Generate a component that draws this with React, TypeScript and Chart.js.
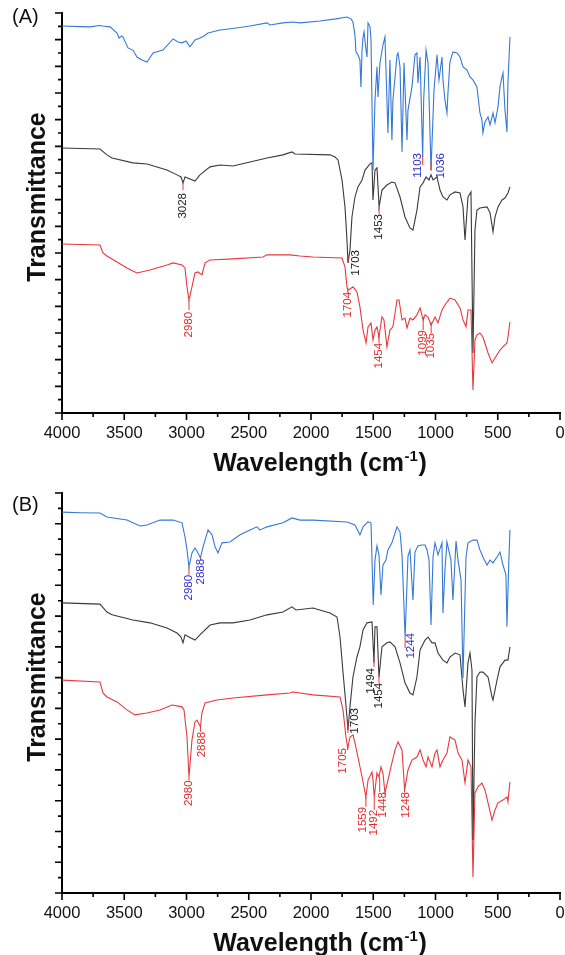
import React, { useEffect, useRef } from 'react';
import { Chart, registerables } from 'chart.js';
Chart.register(...registerables);

const FONT = '"Liberation Sans", Arial, Helvetica, sans-serif';

// ---------- axis definitions ----------
const xTickLabels = [4000, 3500, 3000, 2500, 2000, 1500, 1000, 500, 0];
const xMinorStep = 250;
const yMinorStep = 5;
const yMajorStep = 10;
const yMaxA = 150;
const yMaxB = 130;

// ---------- Panel A spectra: [wavenumber, transmittance (offset units)] ----------
const aBlue: [number, number][] = [
  [4000,145.1],[3850,144.9],[3775,144.8],[3700,145.3],[3671,145.1],[3614,144.8],[3558,142.5],[3542,140.6],[3520,141.4],[3510,141.0],
  [3470,136.9],[3430,136.1],[3398,133.5],[3357,132.4],[3317,131.6],[3269,135.0],[3189,136.1],[3108,140.3],[3068,139.1],[3036,138.8],
  [3004,139.5],[2972,137.3],[2932,139.9],[2892,140.6],[2859,141.4],[2827,142.5],[2731,143.6],[2600,144.4],[2490,145.1],[2353,146.3],
  [2329,145.5],[2225,146.3],[2145,146.6],[2088,146.3],[1928,147.0],[1800,147.8],[1711,148.5],[1679,147.8],[1663,146.6],[1647,141.8],
  [1639,135.4],[1623,134.3],[1607,132.4],[1599,122.3],[1590,136.1],[1582,141.0],[1574,142.9],[1558,136.1],[1550,133.5],[1542,146.3],
  [1526,144.8],[1518,140.0],[1502,91.1],[1486,117.4],[1470,129.8],[1462,118.5],[1446,131.3],[1422,138.0],[1406,141.0],[1390,117.4],
  [1382,105.0],[1366,132.4],[1350,102.4],[1342,117.4],[1325,126.0],[1309,134.3],[1301,135.0],[1285,129.8],[1269,97.9],[1253,131.3],
  [1229,102.4],[1221,113.6],[1189,122.3],[1165,134.3],[1149,135.0],[1141,123.8],[1124,133.5],[1103,96.0],[1095,117.4],[1076,136.1],
  [1060,131.3],[1052,118.5],[1036,91.1],[1012,121.1],[988,134.3],[972,124.9],[948,133.5],[940,124.9],[924,117.4],[908,112.5],
  [900,120.0],[884,131.6],[860,135.4],[827,135.0],[803,133.5],[779,129.8],[747,128.6],[723,126.0],[699,124.9],[667,122.3],
  [643,112.5],[627,109.9],[619,105.0],[603,109.1],[578,111.0],[562,108.0],[538,112.5],[522,108.8],[498,114.8],[482,122.3],
  [466,126.0],[458,127.5],[442,113.6],[426,105.4],[418,123.8],[402,141.0],
];
const aBlack: [number, number][] = [
  [4000,99.4],[3695,99.0],[3639,96.8],[3598,95.6],[3430,93.8],[3317,93.4],[3157,91.1],[3076,89.3],[3044,88.5],[3028,86.3],
  [3012,88.5],[2932,87.0],[2892,89.3],[2811,92.3],[2731,93.0],[2627,92.6],[2490,94.1],[2353,95.6],[2225,96.8],[2153,97.9],
  [2129,97.1],[1847,96.8],[1807,96.0],[1783,94.9],[1751,87.4],[1727,77.3],[1711,64.9],[1703,56.3],[1687,61.1],[1671,73.5],
  [1647,81.0],[1623,84.8],[1590,87.4],[1566,91.1],[1526,93.4],[1510,93.8],[1502,79.9],[1486,91.1],[1470,91.9],[1453,77.3],
  [1430,83.6],[1390,85.5],[1350,86.6],[1325,86.3],[1285,81.0],[1245,73.5],[1205,69.4],[1181,68.6],[1149,76.1],[1124,84.8],
  [1100,86.3],[1076,88.5],[1052,87.4],[1036,89.3],[1020,87.4],[988,88.5],[964,83.6],[940,81.0],[908,79.9],[884,81.8],
  [843,82.9],[803,82.5],[779,77.3],[763,64.9],[739,81.0],[715,82.9],[699,22.5],[683,68.6],[667,76.1],[643,76.9],
  [586,77.3],[562,75.0],[538,67.9],[522,73.5],[498,77.3],[466,79.9],[442,80.6],[418,82.5],[402,84.8],
];
const aRed: [number, number][] = [
  [4000,63.4],[3695,63.0],[3671,60.0],[3639,58.9],[3558,56.6],[3478,54.4],[3398,52.5],[3293,53.6],[3157,55.5],[3108,56.3],
  [3036,55.5],[3012,54.4],[2996,47.3],[2980,42.4],[2956,47.3],[2932,52.5],[2908,52.9],[2876,51.8],[2851,56.3],[2811,57.4],
  [2627,57.8],[2386,58.5],[2353,59.3],[2169,59.3],[2088,58.9],[1984,58.5],[1751,58.1],[1727,54.8],[1711,47.3],[1704,46.1],
  [1687,46.5],[1663,47.3],[1631,45.4],[1607,39.8],[1582,31.1],[1558,26.3],[1542,32.3],[1518,33.8],[1502,27.4],[1486,31.1],
  [1470,32.3],[1454,28.5],[1430,36.0],[1414,34.9],[1390,24.8],[1366,31.1],[1342,32.3],[1309,42.4],[1293,42.4],[1269,34.9],
  [1245,35.6],[1229,31.9],[1205,35.6],[1181,34.9],[1149,36.8],[1124,39.4],[1099,34.9],[1084,36.8],[1060,36.0],[1035,33.0],
  [1004,36.0],[980,33.8],[948,38.6],[924,40.5],[884,43.1],[843,42.4],[803,39.4],[779,34.9],[755,32.3],[739,38.6],
  [715,38.6],[699,8.6],[683,27.4],[667,29.3],[643,30.0],[619,28.5],[578,22.5],[546,18.8],[522,20.6],[482,23.6],
  [458,24.8],[426,26.3],[418,28.5],[402,34.1],
];

// ---------- Panel B spectra ----------
const bBlue: [number, number][] = [
  [4000,123.8],[3850,123.6],[3695,123.5],[3639,122.2],[3478,121.2],[3373,119.3],[3317,119.6],[3213,121.2],[3108,121.2],[3036,120.3],
  [3012,115.7],[2996,111.5],[2980,106.0],[2956,110.5],[2932,112.1],[2908,110.5],[2888,108.9],[2867,112.5],[2827,118.0],[2795,116.4],
  [2771,112.5],[2747,110.5],[2715,113.8],[2651,114.1],[2570,116.4],[2490,118.0],[2434,119.0],[2410,118.0],[2353,119.0],[2225,120.3],
  [2153,121.9],[2088,121.2],[1984,121.2],[1711,120.6],[1647,119.6],[1607,116.4],[1582,119.0],[1542,120.6],[1518,120.3],[1500,93.6],
  [1486,108.2],[1470,112.8],[1454,109.9],[1438,96.9],[1422,106.6],[1398,108.2],[1382,111.5],[1350,113.8],[1325,117.0],[1309,119.0],
  [1285,117.3],[1269,109.9],[1244,83.2],[1221,109.5],[1205,111.5],[1181,95.2],[1165,110.8],[1141,112.8],[1108,113.1],[1084,113.1],
  [1068,111.5],[1052,108.2],[1036,87.1],[1020,109.2],[1004,113.8],[980,109.9],[948,113.8],[940,91.0],[924,105.0],[908,114.1],
  [876,108.2],[860,95.2],[835,114.4],[819,108.2],[795,101.7],[779,69.9],[755,109.2],[739,113.8],[699,114.7],[667,114.7],
  [643,111.5],[619,109.2],[586,106.6],[562,108.2],[538,107.3],[506,109.2],[482,110.8],[458,106.6],[434,103.4],[426,86.5],
  [410,109.2],[402,118.0],
];
const bBlack: [number, number][] = [
  [4000,94.3],[3695,93.9],[3639,91.3],[3598,90.4],[3430,88.7],[3293,87.8],[3157,86.1],[3076,84.5],[3044,83.2],[3028,81.3],
  [3012,83.9],[2980,83.2],[2932,82.2],[2892,83.9],[2811,87.1],[2731,87.8],[2627,87.8],[2490,88.7],[2353,90.4],[2225,91.3],
  [2153,93.0],[2121,92.0],[1984,92.6],[1847,91.0],[1791,89.7],[1767,83.2],[1743,71.8],[1711,57.2],[1703,53.0],[1687,60.5],
  [1663,70.2],[1631,76.7],[1607,80.0],[1582,85.5],[1550,87.8],[1510,88.1],[1494,74.8],[1486,86.5],[1470,86.5],[1454,70.2],
  [1430,80.0],[1390,81.3],[1366,81.6],[1325,80.0],[1285,74.8],[1245,68.3],[1205,65.0],[1181,64.4],[1149,70.2],[1124,79.0],
  [1084,82.2],[1060,83.2],[1028,81.3],[1004,81.3],[980,78.0],[940,75.7],[908,74.8],[884,76.7],[843,78.0],[803,77.4],
  [779,66.0],[763,60.5],[739,74.8],[723,78.0],[707,72.5],[699,17.2],[683,55.3],[667,70.2],[643,71.8],[619,71.8],
  [578,70.2],[546,63.7],[538,62.7],[506,69.2],[482,73.5],[442,75.7],[418,75.7],[402,80.0],
];
const bRed: [number, number][] = [
  [4000,69.2],[3695,68.6],[3671,65.0],[3639,63.7],[3558,62.1],[3478,59.5],[3414,57.9],[3317,58.5],[3213,59.5],[3116,61.1],
  [3036,60.5],[3020,59.5],[2996,50.7],[2980,37.7],[2956,49.7],[2932,55.6],[2916,56.2],[2888,54.0],[2876,58.5],[2851,61.8],
  [2755,62.7],[2627,63.4],[2353,64.4],[2169,65.0],[2145,65.3],[2088,65.0],[1984,64.4],[1767,63.7],[1743,59.5],[1719,50.7],
  [1705,47.1],[1687,50.7],[1663,51.4],[1647,48.8],[1623,44.2],[1590,37.7],[1559,31.2],[1542,36.7],[1510,39.3],[1502,36.7],
  [1492,31.2],[1470,39.0],[1454,37.7],[1438,41.0],[1422,39.0],[1406,32.5],[1382,36.7],[1350,42.3],[1325,46.5],[1301,49.1],
  [1269,46.5],[1248,33.5],[1221,40.0],[1189,43.2],[1149,44.2],[1124,46.5],[1100,43.2],[1076,41.0],[1060,44.2],[1028,41.0],
  [1004,45.5],[988,46.5],[964,41.0],[940,43.2],[908,45.5],[884,50.7],[843,49.7],[819,45.5],[787,43.2],[763,35.8],
  [739,43.2],[715,41.0],[699,5.2],[683,32.5],[659,34.5],[627,35.8],[603,33.5],[578,29.3],[546,23.7],[522,27.0],
  [498,29.3],[458,30.2],[426,31.2],[418,29.6],[402,36.1],
];

// ---------- Peak annotations (trace index: 0 blue, 1 black, 2 red) ----------
const annALabels = ['3028', '2980', '1703', '1453', '1103', '1036', '1704', '1454', '1099', '1035'];
const annATrace = [1, 2, 1, 1, 0, 0, 2, 2, 2, 2];
const annAPeak = [3028, 2980, 1703, 1453, 1103, 1036, 1704, 1454, 1099, 1035];
const annAFrom = [86.3, 42.4, 59.3, 77.3, 96.8, 94.1, 46.9, 30.0, 36.0, 34.0];
const annATo = [83.6, 38.6, 56.3, 74.6, 93.0, 90.8, 45.0, 26.3, 31.1, 30.0];
const annATextWn = [3028, 2980, 1639, 1453, 1145, 956, 1707, 1454, 1099, 1035];
const annATextTop = [82.5, 37.9, 61.1, 74.6, 97.5, 97.5, 45.4, 26.3, 31.1, 30.0];

const annBLabels = ['2980', '2888', '1244', '1494', '1454', '1703', '2980', '2888', '1705', '1559', '1492', '1448', '1248'];
const annBTrace = [0, 0, 0, 1, 1, 1, 2, 2, 2, 2, 2, 2, 2];
const annBPeak = [2980, 2888, 1244, 1494, 1454, 1703, 2980, 2888, 1705, 1559, 1492, 1448, 1248];
const annBFrom = [106.0, 109.2, 83.2, 76.4, 71.5, 55.3, 37.7, 54.0, 47.8, 31.2, 31.2, 37.7, 33.5];
const annBTo = [103.4, 108.2, 79.6, 73.5, 68.3, 52.0, 36.6, 52.4, 46.5, 28.0, 27.0, 32.8, 32.8];
const annBTextWn = [2980, 2888, 1197, 1522, 1454, 1647, 2980, 2878, 1747, 1586, 1492, 1426, 1237];
const annBTextTop = [103.4, 108.6, 84.5, 73.1, 68.3, 60.1, 36.6, 52.4, 47.1, 28.0, 27.0, 32.8, 32.8];

// ---------- styles ----------
const traceColors = ['#3579d6', '#3a3a3a', '#e8383d'];
const labelColors = ['#2f2fd0', '#1a1a1a', '#e02a2a'];
const markColor = '#e53935';

interface PanelCfg {
  traces: [number, number][][];
  yMax: number;
  letter: string;
  letterY: number;
  padTop: number;
  height: number;
  xHeight: number;
  ann: { labels: string[]; trace: number[]; peak: number[]; from: number[]; to: number[]; textWn: number[]; textTop: number[] };
}

const panelA: PanelCfg = {
  traces: [aBlue, aBlack, aRed], yMax: yMaxA, letter: '(A)', letterY: 23, padTop: 13, height: 477, xHeight: 64,
  ann: { labels: annALabels, trace: annATrace, peak: annAPeak, from: annAFrom, to: annATo, textWn: annATextWn, textTop: annATextTop },
};
const panelB: PanelCfg = {
  traces: [bBlue, bBlack, bRed], yMax: yMaxB, letter: '(B)', letterY: 34, padTop: 16, height: 478, xHeight: 62,
  ann: { labels: annBLabels, trace: annBTrace, peak: annBPeak, from: annBFrom, to: annBTo, textWn: annBTextWn, textTop: annBTextTop },
};

function decorPlugin(cfg: PanelCfg) {
  return {
    id: 'decor',
    afterDraw(chart: any) {
      const { ctx, chartArea: ca, scales } = chart;
      const x = scales.x;
      const y = scales.y;
      ctx.save();
      // tick marks
      ctx.strokeStyle = '#000';
      ctx.lineWidth = 1.6;
      ctx.beginPath();
      for (let v = 0; v <= cfg.yMax + 1e-6; v += yMinorStep) {
        const py = y.getPixelForValue(v);
        const len = v % yMajorStep === 0 ? 7 : 4;
        ctx.moveTo(ca.left - len, py);
        ctx.lineTo(ca.left, py);
      }
      for (let v = 0; v <= 4000; v += xMinorStep) {
        const px = x.getPixelForValue(v);
        const len = v % 500 === 0 ? 7 : 4;
        ctx.moveTo(px, ca.bottom);
        ctx.lineTo(px, ca.bottom + len);
      }
      ctx.stroke();

      // peak markers and labels
      const a = cfg.ann;
      ctx.lineWidth = 1;
      ctx.strokeStyle = markColor;
      for (let i = 0; i < a.labels.length; i++) {
        const px = x.getPixelForValue(a.peak[i]);
        ctx.beginPath();
        ctx.moveTo(px, y.getPixelForValue(a.from[i]));
        ctx.lineTo(px, y.getPixelForValue(a.to[i]));
        ctx.stroke();
      }
      ctx.font = `11.5px ${FONT}`;
      ctx.textAlign = 'right';
      ctx.textBaseline = 'middle';
      for (let i = 0; i < a.labels.length; i++) {
        const tx = x.getPixelForValue(a.textWn[i]);
        const ty = y.getPixelForValue(a.textTop[i]);
        ctx.save();
        ctx.translate(tx, ty);
        ctx.rotate(-Math.PI / 2);
        ctx.fillStyle = labelColors[a.trace[i]];
        ctx.fillText(a.labels[i], 0, 0);
        ctx.restore();
      }

      // panel letter
      ctx.fillStyle = '#111';
      ctx.font = `20px ${FONT}`;
      ctx.textAlign = 'left';
      ctx.textBaseline = 'alphabetic';
      ctx.fillText(cfg.letter, 12, cfg.letterY);

      // y title
      ctx.save();
      ctx.translate(45, (ca.top + ca.bottom) / 2 - 16);
      ctx.rotate(-Math.PI / 2);
      ctx.font = `bold 25px ${FONT}`;
      ctx.textAlign = 'center';
      ctx.fillStyle = '#111';
      ctx.fillText('Transmittance', 0, 0);
      ctx.restore();

      // x title with superscript
      const main = 'Wavelength (cm';
      const sup = '-1';
      const close = ')';
      const bigFont = `bold 25px ${FONT}`;
      const smallFont = `bold 15px ${FONT}`;
      ctx.font = bigFont;
      const w1 = ctx.measureText(main).width;
      const w3 = ctx.measureText(close).width;
      ctx.font = smallFont;
      const w2 = ctx.measureText(sup).width;
      const total = w1 + w2 + w3 + 1;
      const cx = (ca.left + ca.right) / 2 + 9;
      const base = ca.bottom + 58;
      let sx = cx - total / 2;
      ctx.textAlign = 'left';
      ctx.fillStyle = '#111';
      ctx.font = bigFont;
      ctx.fillText(main, sx, base);
      sx += w1;
      ctx.font = smallFont;
      ctx.fillText(sup, sx + 0.5, base - 10);
      sx += w2 + 1;
      ctx.font = bigFont;
      ctx.fillText(close, sx, base);
      ctx.restore();
    },
  };
}

function buildConfig(cfg: PanelCfg): any {
  return {
    type: 'line',
    data: {
      datasets: cfg.traces.map((tr, i) => ({
        data: tr.map(([w, t]) => ({ x: w, y: t })),
        borderColor: traceColors[i],
        borderWidth: 1.1,
        pointRadius: 0,
        tension: 0,
        fill: false,
      })),
    },
    options: {
      animation: false,
      responsive: false,
      events: [],
      layout: { padding: { top: cfg.padTop, right: 5, left: 0, bottom: 0 } },
      plugins: { legend: { display: false }, tooltip: { enabled: false } },
      scales: {
        x: {
          type: 'linear',
          min: 0,
          max: 4000,
          reverse: true,
          afterBuildTicks: (s: any) => {
            s.ticks = xTickLabels.map((v) => ({ value: v }));
          },
          afterFit: (s: any) => {
            s.height = cfg.xHeight;
            s.paddingLeft = 0;
            s.paddingRight = 0;
          },
          ticks: {
            autoSkip: false,
            maxRotation: 0,
            minRotation: 0,
            padding: 4,
            color: '#111',
            font: { family: FONT, size: 16.5 },
            callback: (v: any) => String(v),
          },
          grid: { display: true, drawOnChartArea: false, drawTicks: true, tickLength: 7, color: 'rgba(0,0,0,0)' },
          border: { display: true, color: '#000', width: 2 },
        },
        y: {
          type: 'linear',
          min: 0,
          max: cfg.yMax,
          ticks: { display: false },
          grid: { display: true, drawOnChartArea: false, drawTicks: false, color: 'rgba(0,0,0,0)' },
          border: { display: true, color: '#000', width: 2 },
          afterFit: (s: any) => {
            s.width = 62;
          },
        },
      },
    },
    plugins: [decorPlugin(cfg)],
  };
}

function Panel({ cfg }: { cfg: PanelCfg }) {
  const ref = useRef<HTMLCanvasElement | null>(null);
  useEffect(() => {
    const chart = new Chart(ref.current as HTMLCanvasElement, buildConfig(cfg));
    return () => chart.destroy();
  }, [cfg]);
  return (
    <canvas
      ref={ref}
      width={565}
      height={cfg.height}
      style={{ display: 'block', width: 565, height: cfg.height }}
    />
  );
}

export default function App() {
  return (
    <div style={{ position: 'absolute', left: 0, top: 0, width: 565, height: 955, background: '#fff' }}>
      <Panel cfg={panelA} />
      <Panel cfg={panelB} />
    </div>
  );
}
